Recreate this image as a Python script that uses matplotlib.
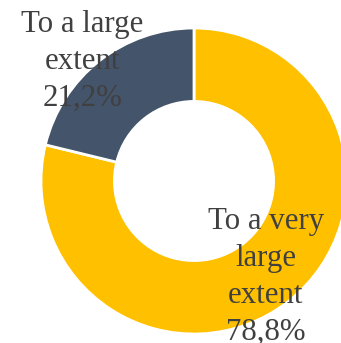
import matplotlib
matplotlib.use("Agg")
import matplotlib.pyplot as plt

categories = ["To a very\nlarge\nextent", "To a large\nextent"]
shares = [78.8, 21.2]
colors = ["#FFC000", "#44546A"]

W, H = 341, 343
cx, cy, R = 194, 181, 153  # pie centre and radius in pixels

fig = plt.figure(figsize=(W / 100, H / 100), dpi=100)
ax = fig.add_axes([0, 0, 1, 1])

wedges, _ = ax.pie(
    shares, colors=colors, startangle=90, counterclock=False, radius=1.0,
    wedgeprops=dict(width=0.48, edgecolor="white", linewidth=2),
)
ax.set_xlim(-cx / R, (W - cx) / R)
ax.set_ylim(-(H - cy) / R, cy / R)
ax.set_aspect("auto")
ax.axis("off")

label_pos = [(0.47, -0.628), (-0.73, 0.784)]
for cat, val, (x, y) in zip(categories, shares, label_pos):
    txt = f"{cat}\n{val:.1f}%".replace(".", ",")
    ax.text(x, y, txt, ha="center", va="center", fontsize=22.2,
            family="Liberation Serif", color="#404040", linespacing=1.36)

fig.savefig("out.png", dpi=100)
